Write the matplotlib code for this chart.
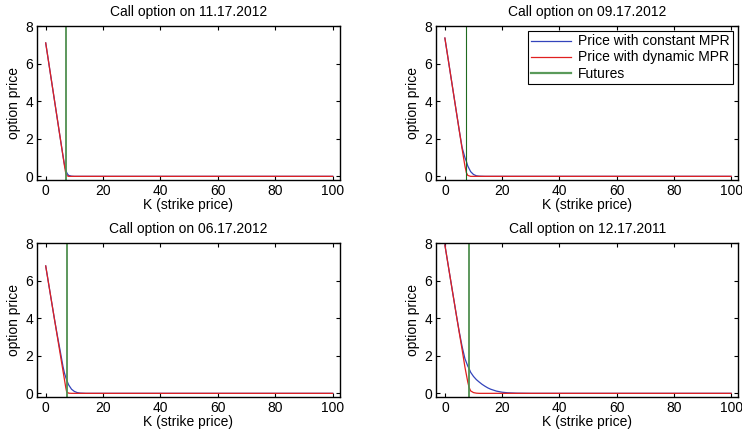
import matplotlib
matplotlib.use("Agg")
import matplotlib.pyplot as plt

plt.rcParams["font.family"] = ["Liberation Sans", "DejaVu Sans"]
plt.rcParams["font.size"] = 10

# strike prices (K) and option prices
titles = ["Call option on 11.17.2012", "Call option on 09.17.2012",
          "Call option on 06.17.2012", "Call option on 12.17.2011"]
futures = [7.0, 7.5, 7.3, 8.45]

k_11_2012 = [0, 2, 4, 5, 6, 6.5, 7, 7.5, 8, 9, 10, 100]
const_11_2012 = [7.1, 5.1, 3.1, 2.1, 1.12, 0.66, 0.32, 0.14, 0.05, 0.01, 0.0, 0.0]
dyn_11_2012 = [7.1, 5.1, 3.1, 2.1, 1.1, 0.6, 0.15, 0.03, 0.0, 0.0, 0.0, 0.0]

k_09_2012 = [0, 2, 4, 5, 6, 7, 7.5, 8, 9, 10, 11, 12, 14, 100]
const_09_2012 = [7.36, 5.4, 3.44, 2.47, 1.55, 1.0, 0.8, 0.55, 0.25, 0.1, 0.03, 0.01, 0.0, 0.0]
dyn_09_2012 = [7.36, 5.4, 3.44, 2.46, 1.48, 0.55, 0.2, 0.05, 0.0, 0.0, 0.0, 0.0, 0.0, 0.0]

k_06_2012 = [0, 2, 3, 4, 5, 6, 6.5, 7, 7.3, 8, 9, 10, 11, 12, 14, 100]
const_06_2012 = [6.78, 4.92, 4.0, 3.12, 2.3, 1.45, 1.1, 0.85, 0.71, 0.45, 0.22, 0.1, 0.04, 0.015, 0.0, 0.0]
dyn_06_2012 = [6.78, 4.92, 3.99, 3.07, 2.14, 1.22, 0.76, 0.3, 0.08, 0.01, 0.0, 0.0, 0.0, 0.0, 0.0, 0.0]

k_12_2011 = [0, 2, 4, 5, 6, 7, 8, 8.45, 9, 10, 11, 12, 13, 14, 15, 16, 18, 20, 22, 25, 30, 100]
const_12_2011 = [7.9, 6.03, 4.18, 3.3, 2.5, 1.85, 1.45, 1.32, 1.12, 0.9, 0.73, 0.6, 0.48, 0.38, 0.29, 0.22,
                 0.12, 0.06, 0.03, 0.01, 0.0, 0.0]
dyn_12_2011 = [7.9, 6.03, 4.17, 3.25, 2.35, 1.4, 0.6, 0.32, 0.13, 0.04, 0.01, 0.0, 0.0, 0.0, 0.0, 0.0,
               0.0, 0.0, 0.0, 0.0, 0.0, 0.0]

strikes = [k_11_2012, k_09_2012, k_06_2012, k_12_2011]
const_mpr = [const_11_2012, const_09_2012, const_06_2012, const_12_2011]
dyn_mpr = [dyn_11_2012, dyn_09_2012, dyn_06_2012, dyn_12_2011]

fig = plt.figure(figsize=(7.42, 4.34), dpi=100)
positions = [[0.050, 0.585, 0.408, 0.355], [0.588, 0.585, 0.407, 0.355],
             [0.050, 0.085, 0.408, 0.355], [0.588, 0.085, 0.407, 0.355]]

for i in range(4):
    ax = fig.add_axes(positions[i])
    ax.plot(strikes[i], const_mpr[i], color="#3344bb", lw=0.9, label="Price with constant MPR")
    ax.plot(strikes[i], dyn_mpr[i], color="#e02020", lw=0.9, label="Price with dynamic MPR")
    if i == 1:
        ax.axvline(futures[i], color="#1f6a1f", lw=0.8)
        ax.plot([], [], color="#5a9a5a", lw=1.6, label="Futures")
    else:
        ax.axvline(futures[i], color="#4f8f4f", lw=1.3, label="Futures")
    ax.set_xlim(-3, 102.5)
    ax.set_ylim(-0.2, 8)
    ax.set_xticks([0, 20, 40, 60, 80, 100])
    ax.set_yticks([0, 2, 4, 6, 8])
    ax.tick_params(direction="in", top=True, right=True, length=3, labelsize=10, pad=3)
    for s in ax.spines.values():
        s.set_linewidth(1.0)
    ax.set_title(titles[i], fontsize=10, pad=7)
    ax.set_xlabel("K (strike price)", fontsize=10, labelpad=0)
    ax.set_ylabel("option price", fontsize=10, labelpad=3)
    if i == 1:
        leg = ax.legend(loc="upper right", fontsize=10, fancybox=False, framealpha=1,
                        edgecolor="black", borderaxespad=0.35, handlelength=2.9,
                        labelspacing=0.15, borderpad=0.25, handletextpad=0.5)
        leg.get_frame().set_linewidth(0.8)

fig.savefig("out.png", dpi=100)
